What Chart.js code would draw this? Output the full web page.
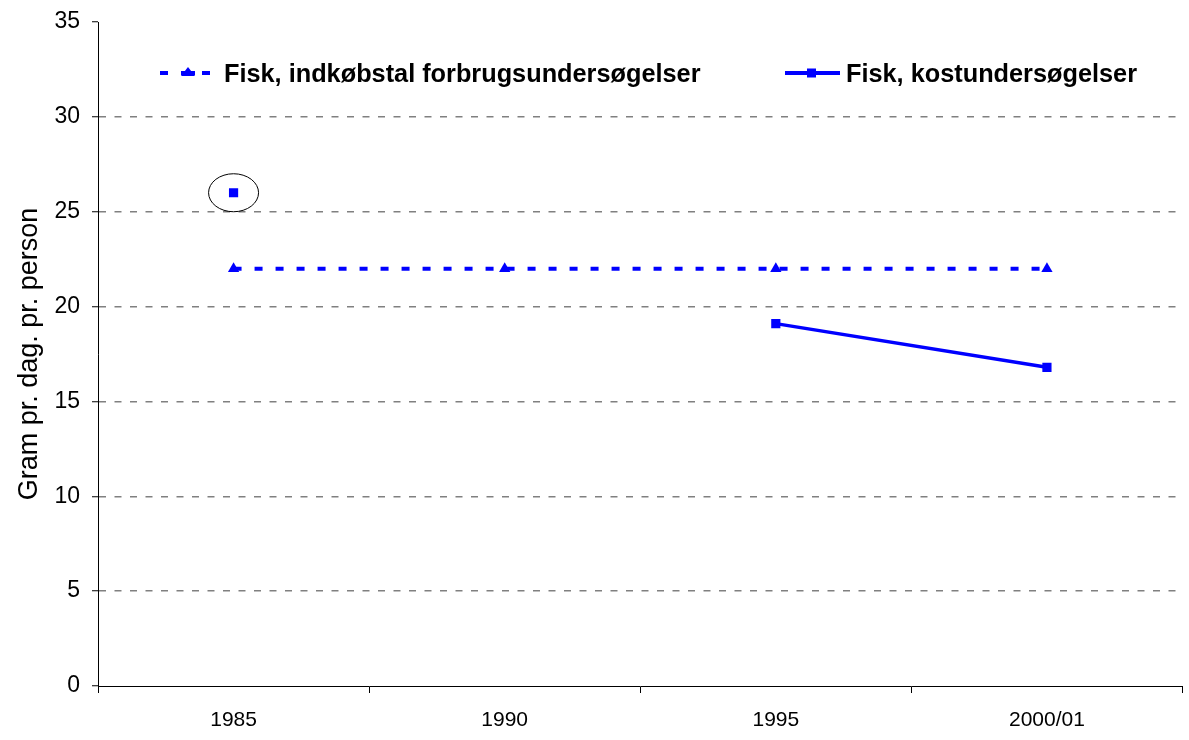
<!DOCTYPE html>
<html><head><meta charset="utf-8">
<script src="https://cdn.jsdelivr.net/npm/chart.js@4/dist/chart.umd.min.js"></script>
<style>html,body{margin:0;padding:0;background:#fff}#wrap{width:1189px;height:740px}</style>
</head><body><div id="wrap"><canvas id="c" width="1189" height="740"></canvas></div>
<script>
const categories = ["1985", "1990", "1995", "2000/01"];
const seriesNames = ["Fisk, indkøbstal forbrugsundersøgelser", "Fisk, kostundersøgelser"];
const indkobstal = [22, 22, 22, 22];
const kostundersogelser = [26, null, 19.1, 16.8];
const yTicks = [0, 5, 10, 15, 20, 25, 30, 35];
const highlightIndex = 0; // circled point in series 2

const BLUE = '#0000FF';
const FONT = 'Arial, "Liberation Sans", sans-serif';

const overlay = {
  id: 'overlay',
  afterDatasetsDraw(chart) {
    const ctx = chart.ctx;
    const xs = chart.scales.x, ys = chart.scales.y;
    const px = xs.getPixelForValue(highlightIndex);
    const py = ys.getPixelForValue(kostundersogelser[highlightIndex]);
    ctx.save();
    ctx.strokeStyle = '#000';
    ctx.lineWidth = 1;
    ctx.beginPath();
    ctx.ellipse(px, py, 25, 19, 0, 0, Math.PI * 2);
    ctx.stroke();
    ctx.restore();

    // legend inside plot area
    ctx.save();
    const ly = 73;
    ctx.strokeStyle = BLUE; ctx.lineWidth = 4; ctx.setLineDash([8, 13]);
    ctx.beginPath(); ctx.moveTo(160, ly); ctx.lineTo(220, ly); ctx.stroke();
    ctx.setLineDash([]);
    ctx.fillStyle = BLUE;
    ctx.beginPath(); ctx.moveTo(188, ly - 6); ctx.lineTo(195, ly + 3); ctx.lineTo(181, ly + 3); ctx.closePath(); ctx.fill();
    ctx.fillRect(181, ly - 2, 14, 4);
    ctx.fillStyle = '#000';
    ctx.font = 'bold 25.3px ' + FONT;
    ctx.textBaseline = 'middle';
    ctx.fillText(seriesNames[0], 224, ly + 2);
    ctx.strokeStyle = BLUE; ctx.lineWidth = 4;
    ctx.beginPath(); ctx.moveTo(785, ly); ctx.lineTo(840, ly); ctx.stroke();
    ctx.fillStyle = BLUE;
    ctx.fillRect(807, ly - 4.5, 9, 9);
    ctx.fillStyle = '#000';
    ctx.fillText(seriesNames[1], 846, ly + 2);
    ctx.restore();
  }
};

new Chart(document.getElementById('c'), {
  type: 'line',
  data: {
    labels: categories,
    datasets: [
      {
        label: seriesNames[0], data: indkobstal,
        borderColor: BLUE, backgroundColor: BLUE, borderWidth: 4, borderDash: [8, 13],
        pointStyle: 'triangle', pointRadius: 6.5, pointBorderWidth: 0, fill: false, tension: 0
      },
      {
        label: seriesNames[1], data: kostundersogelser,
        borderColor: BLUE, backgroundColor: BLUE, borderWidth: 3.5,
        pointStyle: 'rect', pointRadius: 6.5, pointBorderWidth: 0, fill: false, tension: 0, spanGaps: false
      }
    ]
  },
  options: {
    responsive: false, animation: false, devicePixelRatio: 1,
    layout: { padding: { top: 22, right: 2, left: 0, bottom: 0 } },
    plugins: { legend: { display: false }, tooltip: { enabled: false } },
    scales: {
      x: {
        type: 'category', offset: true,
        grid: { offset: true, drawOnChartArea: false, drawTicks: true, tickLength: 7, tickColor: '#000', color: '#000' },
        border: { display: true, color: '#000', width: 1 },
        ticks: { color: '#000', font: { family: FONT, size: 21 }, padding: 15, maxRotation: 0 },
        afterFit(s) { s.height = 54; s.paddingLeft = 0; s.paddingRight = 0; }
      },
      y: {
        min: 0, max: 35,
        afterBuildTicks(s) { s.ticks = yTicks.map(v => ({ value: v })); },
        grid: {
          color: ctx => (ctx.tick && (ctx.tick.value === 0 || ctx.tick.value === 35)) ? 'rgba(0,0,0,0)' : '#808080',
          lineWidth: 1.5,
          drawTicks: true, tickLength: 6, tickColor: '#000', tickBorderDash: [], tickWidth: 1
        },
        border: { display: true, color: '#000', width: 1, dash: [7, 8.5] },
        ticks: { color: '#000', font: { family: FONT, size: 23 }, padding: 12 },
        title: { display: true, text: 'Gram pr. dag. pr. person', color: '#000', font: { family: FONT, size: 27 }, padding: { top: 13, bottom: 0 } },
        afterFit(s) { s.width = 98; s.paddingTop = 0; s.paddingBottom = 0; }
      }
    }
  },
  plugins: [overlay]
});
</script>
</body></html>
